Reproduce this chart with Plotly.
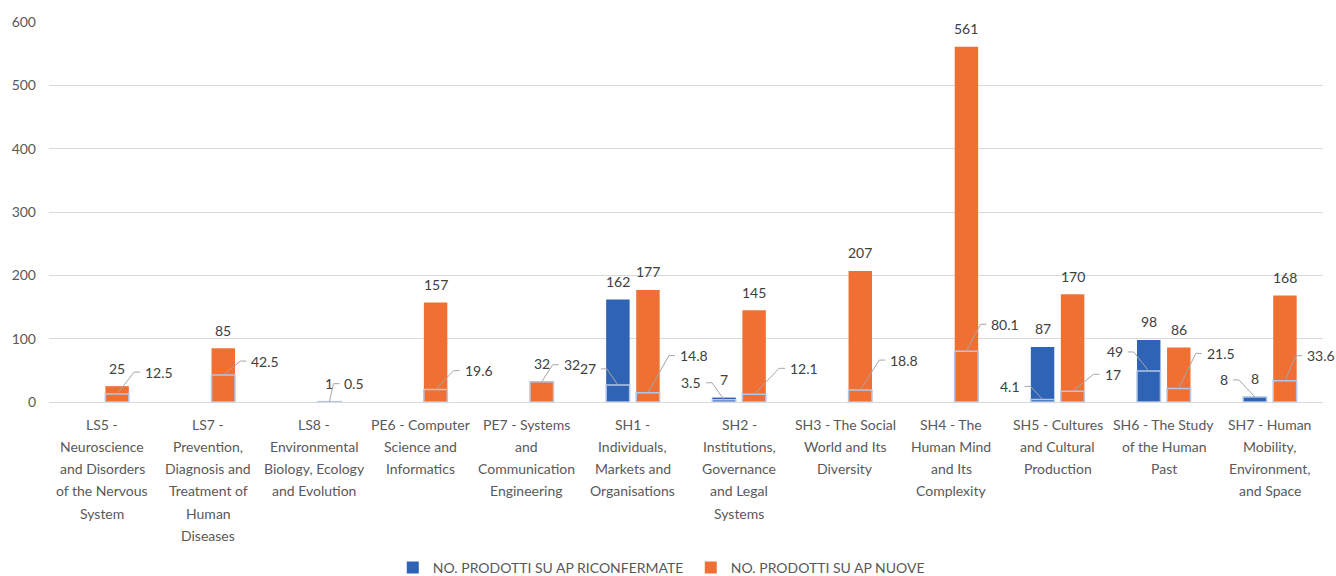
import plotly.graph_objects as go

# ERC panels (category axis) and wrapped label lines
panels = [
    "LS5 - Neuroscience and Disorders of the Nervous System",
    "LS7 - Prevention, Diagnosis and Treatment of Human Diseases",
    "LS8 - Environmental Biology, Ecology and Evolution",
    "PE6 - Computer Science and Informatics",
    "PE7 - Systems and Communication Engineering",
    "SH1 - Individuals, Markets and Organisations",
    "SH2 - Institutions, Governance and Legal Systems",
    "SH3 - The Social World and Its Diversity",
    "SH4 - The Human Mind and Its Complexity",
    "SH5 - Cultures and Cultural Production",
    "SH6 - The Study of the Human Past",
    "SH7 - Human Mobility, Environment, and Space",
]
panel_lines = [
    ["LS5 -", "Neuroscience", "and Disorders", "of the Nervous", "System"],
    ["LS7 -", "Prevention,", "Diagnosis and", "Treatment of", "Human", "Diseases"],
    ["LS8 -", "Environmental", "Biology, Ecology", "and Evolution"],
    ["PE6 - Computer", "Science and", "Informatics"],
    ["PE7 - Systems", "and", "Communication", "Engineering"],
    ["SH1 -", "Individuals,", "Markets and", "Organisations"],
    ["SH2 -", "Institutions,", "Governance", "and Legal", "Systems"],
    ["SH3 - The Social", "World and Its", "Diversity"],
    ["SH4 - The", "Human Mind", "and Its", "Complexity"],
    ["SH5 - Cultures", "and Cultural", "Production"],
    ["SH6 - The Study", "of the Human", "Past"],
    ["SH7 - Human", "Mobility,", "Environment,", "and Space"],
]

# series values
riconfermate = [None, None, None, None, None, 162, 7, None, None, 87, 98, 8]
riconfermate_quota = [None, None, None, None, None, 27, 3.5, None, None, 4.1, 49, 8]
nuove = [25, 85, 1, 157, 32, 177, 145, 207, 561, 170, 86, 168]
nuove_quota = [12.5, 42.5, 0.5, 19.6, 32, 14.8, 12.1, 18.8, 80.1, 17, 21.5, 33.6]

y_ticks = [0, 100, 200, 300, 400, 500, 600]

# styling
BLUE = "#2e63b6"
ORANGE = "#f07034"
EDGE = "#b4c7e7"
TEXT = "#404040"
AXIS_TEXT = "#595959"
GRID = "#d9d9d9"
LEADER = "#a6a6a6"
FONT = "Lato"

BAR_W = 0.221
OFF_BLUE = -0.252
OFF_ORANGE = 0.031

# pixel placement of the share labels: (left/right edge offset, rise)
nuove_quota_pos = [(26, 22), (26, 14), (13, 18), (27, 19), (20, 17), (30, 37),
                   (34, 26), (28, 30), (23, 27), (30, 17), (26, 35), (20, 25)]
ric_quota_pos = [None, None, None, None, None, (-20, 16), (-21, 17), None, None,
                 (-21, 13), (-24, 19), (-25, 17)]

fig = go.Figure()

def bar(values, color, offset, name, legend, edge):
    fig.add_trace(go.Bar(
        x=panels, y=values, name=name, showlegend=legend,
        width=BAR_W, offset=offset,
        marker=dict(color=color, line=dict(color=edge, width=1.5 if edge != color else 0)),
    ))

bar(riconfermate, BLUE, OFF_BLUE, "NO. PRODOTTI SU AP RICONFERMATE", True, BLUE)
bar(nuove, ORANGE, OFF_ORANGE, "NO. PRODOTTI SU AP NUOVE", True, ORANGE)
bar(riconfermate_quota, BLUE, OFF_BLUE, "quota riconfermate", False, EDGE)
bar(nuove_quota, ORANGE, OFF_ORANGE, "quota nuove", False, EDGE)

annotations = []
shapes = []

def fmt(v):
    return f"{v:g}"

centre_blue = OFF_BLUE + BAR_W / 2
centre_orange = OFF_ORANGE + BAR_W / 2

# value labels above the bars
for i, v in enumerate(riconfermate):
    if v is not None:
        annotations.append(dict(x=i + centre_blue, y=v, text=fmt(v), showarrow=False,
                                yanchor="middle", yshift=18,
                                font=dict(family=FONT, size=14, color=TEXT)))
for i, v in enumerate(nuove):
    annotations.append(dict(x=i + centre_orange, y=v, text=fmt(v), showarrow=False,
                            yanchor="middle", yshift=18,
                            font=dict(family=FONT, size=14, color=TEXT)))

# share labels with leader lines
def share_label(xc, v, pos):
    edge, rise = pos
    right = edge > 0
    annotations.append(dict(x=xc, y=v, text=fmt(v), showarrow=False,
                            xanchor="left" if right else "right", yanchor="middle",
                            xshift=edge, yshift=rise,
                            font=dict(family=FONT, size=14, color=TEXT)))
    sgn = 1 if right else -1
    elbow = edge - sgn * 9
    end = edge - sgn * 3
    shapes.append(dict(type="path", xref="x", yref="y", xsizemode="pixel", ysizemode="pixel",
                       xanchor=xc, yanchor=v,
                       path=f"M0,0 L{elbow},{rise} L{end},{rise}",
                       line=dict(color=LEADER, width=1)))

for i, v in enumerate(nuove_quota):
    share_label(i + centre_orange, v, nuove_quota_pos[i])
for i, v in enumerate(riconfermate_quota):
    if v is not None:
        share_label(i + centre_blue, v, ric_quota_pos[i])

# wrapped category labels
for i, lines in enumerate(panel_lines):
    for k, line in enumerate(lines):
        annotations.append(dict(x=i, xref="x", y=0, yref="paper", text=line, showarrow=False,
                                yanchor="middle", yshift=-(22 + 22.3 * k),
                                font=dict(family=FONT, size=14, color=AXIS_TEXT)))

fig.update_layout(
    width=1336, height=576,
    margin=dict(l=49, r=13, t=22, b=174, autoexpand=False),
    barmode="overlay",
    plot_bgcolor="white", paper_bgcolor="white",
    font=dict(family=FONT, size=14, color=AXIS_TEXT),
    annotations=annotations,
    shapes=shapes,
    legend=dict(orientation="h", xref="container", yref="container",
                x=0.294, xanchor="left", y=0.014, yanchor="middle",
                font=dict(family=FONT, size=14, color=AXIS_TEXT),
                itemwidth=30, entrywidth=253, traceorder="normal"),
    showlegend=True,
)
fig.update_xaxes(type="category", categoryorder="array", categoryarray=panels,
                 range=[-0.5, len(panels) - 0.5], showticklabels=False,
                 showgrid=False, showline=False, ticks="")
fig.update_yaxes(range=[0, 600], tickvals=y_ticks, showgrid=True, gridcolor=GRID, gridwidth=1,
                 zeroline=True, zerolinecolor=GRID, zerolinewidth=1, showline=False,
                 ticks="", ticklabelstandoff=12,
                 tickfont=dict(family=FONT, size=14, color=AXIS_TEXT))

fig.write_html("out.html")
